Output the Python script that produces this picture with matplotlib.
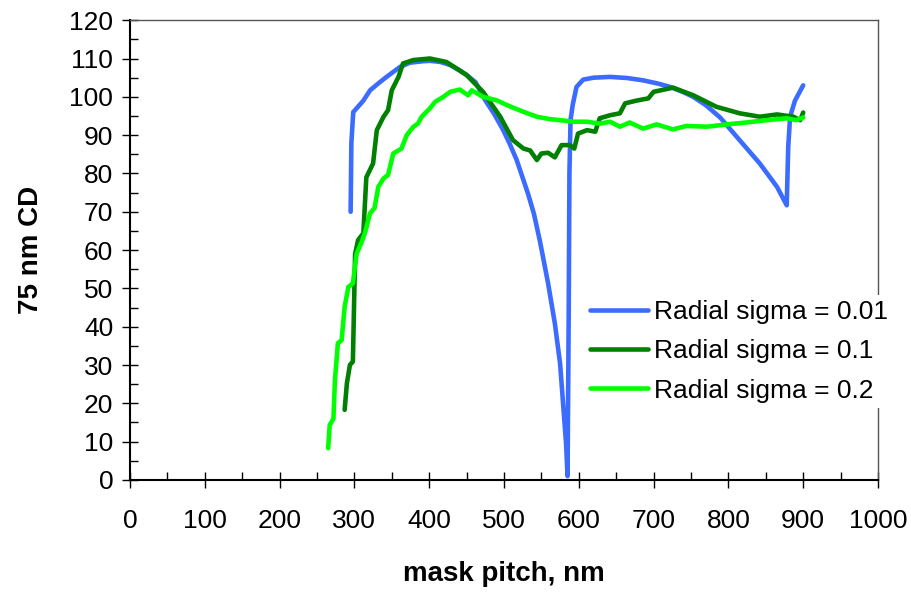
import numpy as np
import matplotlib
matplotlib.use("Agg")
import matplotlib.pyplot as plt
from matplotlib.ticker import MultipleLocator

plt.rcParams['font.family'] = ['Liberation Sans', 'DejaVu Sans']

# Radial sigma = 0.01
x_s001 = [295, 296, 298.5, 303, 312, 321, 332, 343, 361, 374, 392, 401, 415, 428,
          440, 450, 462, 475, 487, 499, 508, 517, 532, 540, 548, 559, 568, 575,
          579, 583, 585, 586.5, 587.5, 589, 592, 597, 606, 620, 642, 665, 686,
          705, 722, 740, 753, 770, 789, 815, 842, 865, 878, 880, 882.5, 889, 900]
y_s001 = [70, 88, 96, 97, 99, 101.7, 103.5, 105.2, 107.8, 108.9, 109.3, 109.4,
          109.1, 108.3, 107, 105.7, 103.8, 99.1, 95.5, 91.3, 87.6, 83.5, 74.8,
          69.5, 62.4, 51.3, 40.9, 30.4, 20, 9.6, 1, 42, 80, 94, 98, 102.6, 104.5,
          105, 105.2, 104.9, 104.3, 103.5, 102.6, 101.2, 100, 97.8, 94.6, 88.7,
          82.6, 76.5, 71.7, 86.9, 94.8, 99, 103]

# Radial sigma = 0.1
x_s01 = [287, 290, 294, 298, 301, 305, 312, 316, 325, 330, 339, 345, 350, 359,
         365, 379, 401, 423, 450, 472, 495, 512, 526, 535, 544, 550, 559, 568,
         577, 588, 594, 599, 611, 622, 628, 642, 655, 662, 677, 693, 700, 726,
         753, 784, 815, 842, 865, 887, 896, 900]
y_s01 = [18.3, 25.2, 30, 30.9, 59, 62.6, 64.4, 79, 82.6, 91.3, 94.8, 96.5, 101.7,
         105.2, 108.7, 109.6, 110, 109.1, 105.7, 101.3, 94.8, 88.7, 86.5, 86,
         83.5, 85.2, 85.4, 84.2, 87.4, 87.4, 86.5, 90.4, 91.3, 90.9, 94.4, 95.2,
         95.7, 98.3, 99, 99.6, 101.3, 102.4, 100.4, 97.4, 95.7, 94.8, 95.4, 94.8,
         93.9, 95.9]

# Radial sigma = 0.2
x_s02 = [265, 267, 272, 274, 278, 283, 287, 292, 298, 303, 310, 314, 321, 327,
         332, 339, 345, 352, 363, 370, 379, 385, 390, 401, 408, 419, 428, 441,
         452, 457, 472, 490, 508, 526, 544, 561, 575, 593, 611, 628, 642, 655,
         668, 686, 704, 726, 744, 771, 798, 824, 851, 878, 891, 900]
y_s02 = [8.3, 14.3, 16, 26, 35.7, 36.5, 45.2, 50.4, 51.3, 59, 62.2, 64.4, 69.6,
         71, 76.5, 78.7, 79.6, 85.2, 86.5, 90, 92.2, 93, 94.8, 97, 98.7, 100,
         101.3, 101.9, 100.4, 101.7, 100, 99.1, 97.5, 96.1, 94.8, 94.2, 93.9,
         93.5, 93.5, 93, 93.5, 92.2, 93.3, 91.7, 92.8, 91.5, 92.4, 92.2, 92.8,
         93.3, 93.9, 94.4, 93.9, 94.6]

labels = ['Radial sigma = 0.01', 'Radial sigma = 0.1', 'Radial sigma = 0.2']
colors = ['#3b6cff', '#008000', '#00ff00']

fig = plt.figure(figsize=(9.12, 5.94), dpi=100)
ax = fig.add_axes([0.1425, 0.192, 0.8202, 0.774])

ax.plot(x_s001, y_s001, color=colors[0], lw=3.3, label=labels[0],
        solid_joinstyle='round', solid_capstyle='round')
ax.plot(x_s01, y_s01, color=colors[1], lw=3.3, label=labels[1],
        solid_joinstyle='round', solid_capstyle='round')
ax.plot(x_s02, y_s02, color=colors[2], lw=3.3, label=labels[2],
        solid_joinstyle='round', solid_capstyle='round')

ax.set_xlim(0, 1000)
ax.set_ylim(0, 120)
ax.xaxis.set_major_locator(MultipleLocator(100))
ax.xaxis.set_minor_locator(MultipleLocator(50))
ax.yaxis.set_major_locator(MultipleLocator(10))
ax.yaxis.set_minor_locator(MultipleLocator(5))
ax.tick_params(which='major', direction='inout', length=12, width=1, labelsize=19)
ax.tick_params(which='minor', direction='in', length=6, width=1)
ax.tick_params(axis='x', pad=15)
ax.tick_params(axis='y', pad=6)

for s in ['left', 'bottom']:
    ax.spines[s].set_linewidth(1.5)
    ax.spines[s].set_color('black')
for s in ['top', 'right']:
    ax.spines[s].set_linewidth(1)
    ax.spines[s].set_color('#555555')

ax.set_xlabel('mask pitch, nm', fontsize=20, fontweight='bold', labelpad=20)
ax.set_ylabel('75 nm CD', fontsize=20, fontweight='bold', labelpad=18)

leg = ax.legend(loc='upper left', bbox_to_anchor=(0.608, 0.403), frameon=True,
                fontsize=19, handlelength=2.2, handletextpad=0.23, labelspacing=0.58,
                borderaxespad=0, borderpad=0.2)
leg.get_frame().set_edgecolor('none')
leg.get_frame().set_facecolor('white')
leg.get_frame().set_alpha(1)
leg.set_zorder(5)

fig.savefig('out.png', dpi=100)
